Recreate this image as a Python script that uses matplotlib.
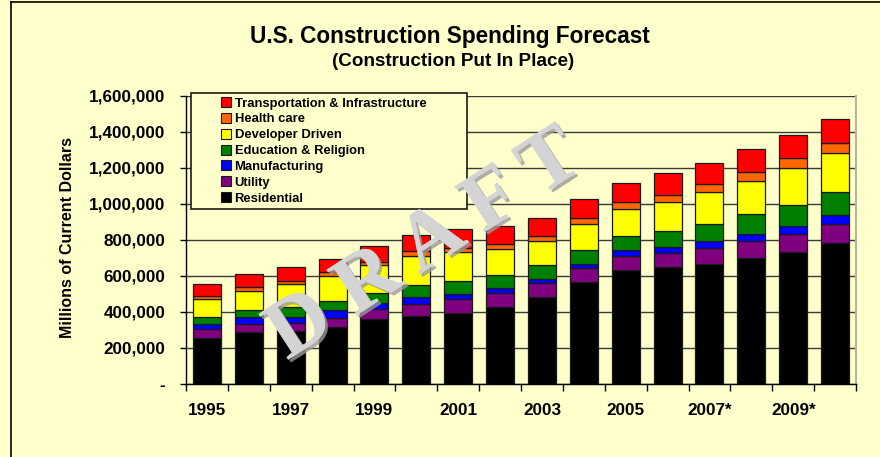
import numpy as np
import matplotlib.pyplot as plt
import matplotlib.patheffects as pe
from matplotlib.lines import Line2D
from matplotlib.ticker import FuncFormatter

# Construction put in place, millions of current dollars
years = ['1995', '1996', '1997', '1998', '1999', '2000', '2001', '2002',
         '2003', '2004', '2005', '2006', '2007*', '2008*', '2009*', '2010*']
residential = [254, 287, 294, 316, 359, 378, 394, 430, 483, 567, 633, 648, 665, 702, 735, 785]
utility = [50, 44, 43, 52, 60, 68, 76, 78, 76, 78, 79, 80, 91, 93, 100, 106]
manufacturing = [28, 39, 37, 41, 30, 37, 30, 24, 24, 24, 30, 31, 39, 41, 41, 48]
education = [42, 41, 52, 54, 56, 65, 72, 76, 76, 74, 82, 89, 94, 109, 120, 130]
developer = [96, 106, 128, 139, 154, 163, 159, 144, 133, 146, 150, 165, 178, 185, 204, 215]
health = [18, 24, 18, 20, 18, 29, 22, 24, 29, 35, 37, 37, 43, 48, 53, 53]
transport = [65, 70, 78, 74, 87, 89, 106, 100, 102, 102, 108, 120, 120, 130, 130, 136]

series = [
    ('Residential', residential, '#000000'),
    ('Utility', utility, '#800080'),
    ('Manufacturing', manufacturing, '#0000FF'),
    ('Education & Religion', education, '#008000'),
    ('Developer Driven', developer, '#FFFF00'),
    ('Health care', health, '#FF6600'),
    ('Transportation & Infrastructure', transport, '#FF0000'),
]

bg = '#FFFFCC'
W, H = 880, 457
fig = plt.figure(figsize=(W / 100, H / 100), dpi=100, facecolor=bg)
ax = fig.add_axes([186 / W, 1 - 384 / H, 670 / W, 288 / H], facecolor=bg)

x = np.arange(len(years))
bottom = np.zeros(len(years))
for name, vals, col in series:
    v = np.array(vals) * 1000
    ax.bar(x, v, 0.67, bottom=bottom, color=col, edgecolor='#1a1a1a',
           linewidth=0.9, zorder=3)
    bottom += v

ax.set_xlim(-0.5, len(years) - 0.5)
ax.set_ylim(0, 1600000)
ax.set_yticks(np.arange(0, 1600001, 200000))
ax.yaxis.set_major_formatter(FuncFormatter(lambda v, p: '-' if v == 0 else f'{int(v):,}'))
ax.grid(axis='y', color='#3a3a3a', linewidth=1.0, zorder=0)
ax.tick_params(axis='y', direction='out', length=4, width=1, pad=11,
               labelsize=12.3)
for lab in ax.get_yticklabels():
    lab.set_fontweight('bold')
    lab.set_fontfamily('Liberation Sans')

# year labels every other bar, ticks between the bars
ax.set_xticks(x[::2])
ax.set_xticklabels(years[::2], fontsize=12.3, fontweight='bold',
                   fontfamily='Liberation Sans')
ax.tick_params(axis='x', which='major', length=0, pad=14)
ax.set_xticks(np.arange(-0.5, len(years), 1), minor=True)
ax.tick_params(axis='x', which='minor', direction='out', length=5, width=1)

ax.spines['top'].set_visible(False)
ax.spines['right'].set_color('#b4b4a0')
ax.spines['right'].set_linewidth(1.5)
ax.spines['left'].set_linewidth(1)
ax.spines['bottom'].set_linewidth(1)

# legend box
handles = [Line2D([], [], marker='s', linestyle='none', markersize=7,
                  markerfacecolor=col, markeredgecolor='#1a1a1a',
                  markeredgewidth=0.8)
           for name, vals, col in series[::-1]]
labels = [name for name, vals, col in series[::-1]]
box = plt.Rectangle((191 / W, 1 - 208.5 / H), 276 / W, 116 / H,
                    transform=fig.transFigure, facecolor=bg,
                    edgecolor='#1a1a1a', linewidth=1.2, zorder=5)
ax.add_patch(box)
box.set_clip_on(False)
leg = ax.legend(handles, labels, loc='upper left',
                bbox_to_anchor=(213 / W, 1 - 89 / H),
                bbox_transform=fig.transFigure, frameon=False,
                prop={'family': 'Liberation Sans', 'weight': 'bold', 'size': 9.4},
                handlelength=0.7, handletextpad=0.3, labelspacing=0.285,
                borderpad=0.15)
leg.set_zorder(6)

# titles and axis label
fig.text(450 / W, 1 - 36 / H, 'U.S. Construction Spending Forecast',
         ha='center', va='center', fontsize=16.3, fontweight='bold',
         family='Liberation Sans')
fig.text(453 / W, 1 - 62 / H, '(Construction Put In Place)',
         ha='center', va='center', fontsize=13.6, fontweight='bold',
         family='Liberation Sans')
fig.text(67 / W, 1 - 237 / H, 'Millions of Current Dollars', rotation=90,
         ha='center', va='center', fontsize=11.5, fontweight='bold',
         family='Liberation Sans')

# DRAFT watermark
fig.text(426 / W, 1 - 247 / H, 'D R A F T', rotation=33, ha='center',
         va='center', fontsize=60, family='Liberation Serif',
         fontweight='bold', color='#d4d4d4', zorder=10,
         path_effects=[pe.withSimplePatchShadow(offset=(2, -2),
                                                shadow_rgbFace='#9a9a9a',
                                                alpha=0.8),
                       pe.Normal()])

# outer frame (top and left edges)
fig.add_artist(Line2D([11 / W, 11 / W], [0, 1 - 2 / H], color='black',
                      linewidth=1.2, transform=fig.transFigure))
fig.add_artist(Line2D([11 / W, 1], [1 - 2 / H, 1 - 2 / H], color='black',
                      linewidth=1.2, transform=fig.transFigure))

fig.savefig('out.png', dpi=100, facecolor=bg)
